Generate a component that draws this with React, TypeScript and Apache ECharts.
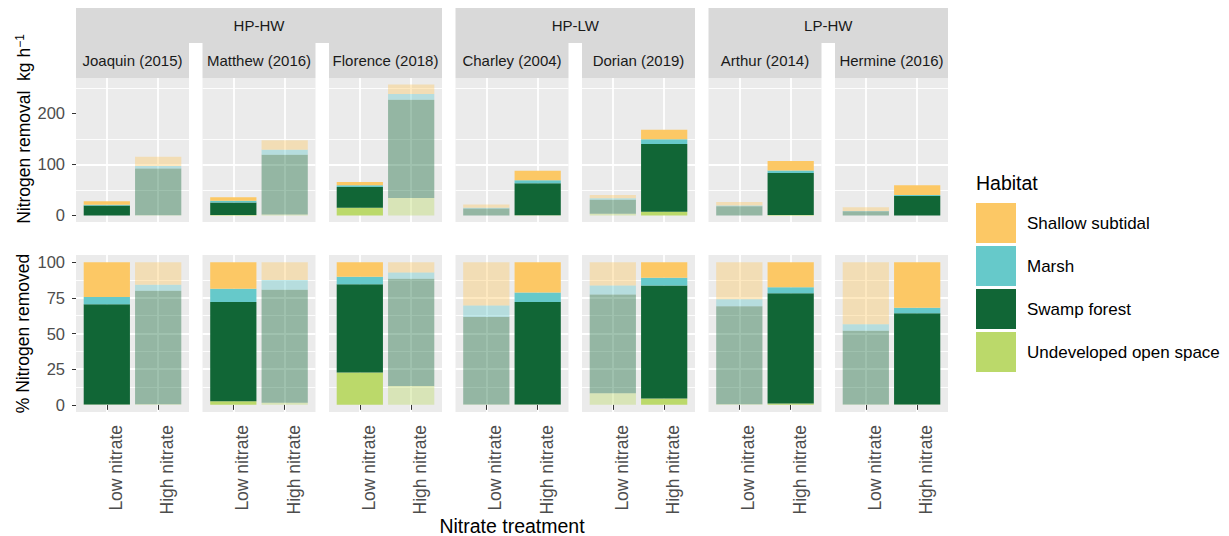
import React, { useEffect, useRef } from 'react';
import * as echarts from 'echarts';

// ---------------- data ----------------
const groups = ['HP-HW', 'HP-LW', 'LP-HW'];
const events = ['Joaquin (2015)', 'Matthew (2016)', 'Florence (2018)', 'Charley (2004)', 'Dorian (2019)', 'Arthur (2014)', 'Hermine (2016)'];
const eventGroups = ['HP-HW', 'HP-HW', 'HP-HW', 'HP-LW', 'HP-LW', 'LP-HW', 'LP-HW'];
const treatments = ['Low nitrate', 'High nitrate'];
const highlightedTreatment = ['Low nitrate', 'Low nitrate', 'Low nitrate', 'High nitrate', 'High nitrate', 'High nitrate', 'High nitrate'];
const habitats = ['Shallow subtidal', 'Marsh', 'Swamp forest', 'Undeveloped open space'];

// Nitrogen removal (kg h-1), per event: [Low nitrate, High nitrate]
const shallowKg = [[6.7, 18.3], [6.6, 18.6], [6.8, 18.7], [6.6, 18.6], [6.6, 18.5], [6.8, 18.8], [6.9, 18.9]];
const marshKg = [[1.4, 4.8], [3.3, 10.0], [3.4, 11.3], [1.7, 5.8], [2.5, 9.1], [1.3, 4.5], [0.7, 2.3]];
const swampKg = [[19.4, 91.3], [24.7, 116.7], [40.7, 192.5], [13.3, 62.9], [27.7, 132.9], [18.0, 82.4], [8.2, 37.9]];
const undevKg = [[0.1, 0.6], [0.9, 2.1], [14.9, 34.1], [0.1, 0.2], [3.3, 7.4], [0.1, 1.0], [0.05, 0.1]];

// % Nitrogen removed, per event: [Low nitrate, High nitrate]
const shallowPct = [[24.4, 15.9], [18.7, 12.6], [10.3, 7.3], [30.4, 21.3], [16.4, 11.0], [26.0, 17.6], [43.6, 31.9]];
const marshPct = [[5.1, 4.2], [9.2, 6.8], [5.2, 4.4], [8.0, 6.6], [6.3, 5.4], [4.9, 4.2], [4.4, 3.9]];
const swampPct = [[70.2, 79.4], [69.5, 79.2], [61.8, 75.0], [61.3, 71.9], [69.1, 79.2], [68.6, 77.3], [51.7, 64.0]];
const undevPct = [[0.3, 0.5], [2.6, 1.4], [22.7, 13.3], [0.3, 0.2], [8.2, 4.4], [0.5, 0.9], [0.3, 0.2]];

const kgByHabitat = [shallowKg, marshKg, swampKg, undevKg];
const pctByHabitat = [shallowPct, marshPct, swampPct, undevPct];

// ---------------- style / layout ----------------
const habitatColors = ['#FCC865', '#66C9CA', '#116636', '#BBD96A'];
const stackOrder = [3, 2, 1, 0]; // bottom -> top
const FONT = '"Liberation Sans", Arial, Helvetica, sans-serif';
const PANEL_X0 = 76;
const PANEL_W = 113;
const PANEL_GAP = 13.5;
const ROWS = [
  { top: 78, height: 144 },
  { top: 255, height: 157 },
];
const STRIP_GROUP = { top: 8, height: 35 };
const STRIP_EVENT = { top: 43, height: 35 };
const EXPAND = 0.6;
const STEP = 0.2;
const FADED = 0.4;
const BAR_FRAC = 0.9;
const PANEL_BG = '#EBEBEB';
const STRIP_BG = '#D9D9D9';
const AXIS_TEXT = '#4D4D4D';

const panelX = (e: number) => PANEL_X0 + e * (PANEL_W + PANEL_GAP);
const nSlots = Math.round((treatments.length - 1 + 2 * EXPAND) / STEP) + 1;
const slotOfTreatment = treatments.map((_, t) => Math.round((t + EXPAND) / STEP));
const slotNames = Array.from({ length: nSlots }, (_, i) => {
  const t = slotOfTreatment.indexOf(i);
  return t >= 0 ? treatments[t] : `slot${i}`;
});
const isUsedSlot = (i: number) => slotOfTreatment.includes(i);
const barWidth = (BAR_FRAC * PANEL_W) / (treatments.length - 1 + 2 * EXPAND);

function buildOption() {
  const totals = events.map((_, e) => treatments.map((_, t) => kgByHabitat.reduce((s, a) => s + a[e][t], 0)));
  const maxTotal = Math.max(...totals.flat());
  const rows = [
    { datasets: kgByHabitat, min: -0.05 * maxTotal, max: 1.05 * maxTotal, step: 100 },
    { datasets: pctByHabitat, min: -5, max: 105, step: 25 },
  ];

  const grids: any[] = [];
  const xAxes: any[] = [];
  const yAxes: any[] = [];
  const series: any[] = [];

  rows.forEach((row, r) => {
    const ticks: number[] = [];
    for (let v = Math.ceil(row.min / row.step) * row.step; v <= row.max; v += row.step) ticks.push(v);
    events.forEach((_, e) => {
      const g = grids.length;
      const first = e === 0;
      const bottom = r === rows.length - 1;
      grids.push({
        left: panelX(e),
        top: ROWS[r].top,
        width: PANEL_W,
        height: ROWS[r].height,
        show: true,
        backgroundColor: PANEL_BG,
        borderWidth: 0,
        containLabel: false,
        outerBoundsMode: 'none',
      });
      xAxes.push({
        gridIndex: g,
        type: 'category',
        boundaryGap: false,
        data: slotNames,
        axisLine: { show: false },
        axisTick: {
          show: bottom,
          interval: (i: number) => isUsedSlot(i),
          length: 5,
          lineStyle: { color: '#333333', width: 1 },
        },
        axisLabel: {
          show: bottom,
          interval: (i: number) => isUsedSlot(i),
          rotate: 90,
          margin: 13,
          fontSize: 17.5,
          fontFamily: FONT,
          color: AXIS_TEXT,
          verticalAlign: 'top',
          formatter: (v: string) => (treatments.includes(v) ? v : ''),
        },
        splitLine: {
          show: true,
          interval: (i: number) => isUsedSlot(i),
          lineStyle: { color: '#FFFFFF', width: 1.8 },
        },
      });
      yAxes.push({
        gridIndex: g,
        type: 'value',
        min: row.min,
        max: row.max,
        minInterval: row.step,
        maxInterval: row.step,
        axisLine: { show: false },
        axisTick: {
          show: first,
          length: 4,
          customValues: ticks,
          lineStyle: { color: '#333333', width: 1 },
        },
        axisLabel: {
          show: first,
          customValues: ticks,
          margin: 11,
          fontSize: 16.5,
          fontFamily: FONT,
          color: AXIS_TEXT,
          formatter: (v: number) => (Math.abs(v / row.step - Math.round(v / row.step)) < 1e-6 ? String(Math.round(v)) : ''),
        },
        splitLine: {
          show: true,
          showMinLine: false,
          showMaxLine: false,
          lineStyle: { color: '#FFFFFF', width: 1.8 },
        },
        minorTick: { show: false, splitNumber: 2 },
        minorSplitLine: { show: true, lineStyle: { color: '#FFFFFF', width: 0.9 } },
      });
      stackOrder.forEach((h) => {
        series.push({
          type: 'bar',
          name: habitats[h],
          xAxisIndex: g,
          yAxisIndex: g,
          stack: `stack${g}`,
          barWidth,
          itemStyle: { color: habitatColors[h] },
          emphasis: { disabled: true },
          data: slotNames.map((_, i) => {
            const t = slotOfTreatment.indexOf(i);
            if (t < 0) return null;
            return {
              value: row.datasets[h][e][t],
              itemStyle: { opacity: treatments[t] === highlightedTreatment[e] ? 1 : FADED },
            };
          }),
        });
      });
    });
  });

  const graphic: any[] = [];
  const stripText = (text: string, x: number, y: number) => ({
    type: 'text',
    x,
    y,
    style: { text, fill: '#1A1A1A', fontSize: 15, fontFamily: FONT, align: 'center', verticalAlign: 'middle', textAlign: 'center', textVerticalAlign: 'middle' },
    silent: true,
  });
  groups.forEach((grp) => {
    const idx = events.map((_, e) => e).filter((e) => eventGroups[e] === grp);
    const x0 = panelX(idx[0]);
    const x1 = panelX(idx[idx.length - 1]) + PANEL_W;
    graphic.push({
      type: 'rect',
      shape: { x: x0, y: STRIP_GROUP.top, width: x1 - x0, height: STRIP_GROUP.height },
      style: { fill: STRIP_BG },
      silent: true,
    });
    graphic.push(stripText(grp, (x0 + x1) / 2, STRIP_GROUP.top + STRIP_GROUP.height / 2));
  });
  events.forEach((ev, e) => {
    graphic.push({
      type: 'rect',
      shape: { x: panelX(e), y: STRIP_EVENT.top, width: PANEL_W, height: STRIP_EVENT.height },
      style: { fill: STRIP_BG },
      silent: true,
    });
    graphic.push(stripText(ev, panelX(e) + PANEL_W / 2, STRIP_EVENT.top + STRIP_EVENT.height / 2));
  });
  // axis titles
  graphic.push({
    type: 'text',
    x: 24,
    y: 129,
    rotation: Math.PI / 2,
    style: {
      text: '{m|Nitrogen removal  kg h}{s|\u22121}',
      align: 'center',
      verticalAlign: 'middle',
      textAlign: 'center',
      textVerticalAlign: 'middle',
      rich: {
        m: { fontSize: 17.5, fontFamily: FONT, fill: '#000', color: '#000', lineHeight: 20 },
        s: { fontSize: 12, fontFamily: FONT, fill: '#000', color: '#000', verticalAlign: 'top', lineHeight: 20 },
      },
    },
    silent: true,
  });
  graphic.push({
    type: 'text',
    x: 23,
    y: ROWS[1].top + ROWS[1].height / 2,
    rotation: Math.PI / 2,
    style: { text: '% Nitrogen removed', fill: '#000', fontSize: 17.5, fontFamily: FONT, align: 'center', verticalAlign: 'middle', textAlign: 'center', textVerticalAlign: 'middle' },
    silent: true,
  });
  graphic.push({
    type: 'text',
    x: (PANEL_X0 + panelX(events.length - 1) + PANEL_W) / 2,
    y: 526,
    style: { text: 'Nitrate treatment', fill: '#000', fontSize: 19.5, fontFamily: FONT, align: 'center', verticalAlign: 'middle', textAlign: 'center', textVerticalAlign: 'middle' },
    silent: true,
  });
  graphic.push({
    type: 'text',
    x: 976,
    y: 183,
    style: { text: 'Habitat', fill: '#000', fontSize: 19.5, fontFamily: FONT, align: 'left', verticalAlign: 'middle', textAlign: 'left', textVerticalAlign: 'middle' },
    silent: true,
  });

  return {
    animation: false,
    backgroundColor: '#FFFFFF',
    textStyle: { fontFamily: FONT },
    grid: grids,
    xAxis: xAxes,
    yAxis: yAxes,
    series,
    legend: {
      data: habitats,
      orient: 'vertical',
      left: 976,
      top: 203,
      itemWidth: 40,
      itemHeight: 40,
      itemGap: 3,
      icon: 'rect',
      selectedMode: false,
      padding: 0,
      textStyle: { fontSize: 17, color: '#000', fontFamily: FONT, padding: [0, 0, 0, 6] },
    },
    graphic,
  };
}

export default function App() {
  const ref = useRef<HTMLDivElement>(null);
  useEffect(() => {
    if (!ref.current) return;
    const chart = echarts.init(ref.current, null, { renderer: 'svg' });
    chart.setOption(buildOption() as any);
    return () => chart.dispose();
  }, []);
  return (
    <div
      ref={ref}
      style={{ position: 'fixed', left: 0, top: 0, width: 1229, height: 536, background: '#FFFFFF' }}
    />
  );
}
